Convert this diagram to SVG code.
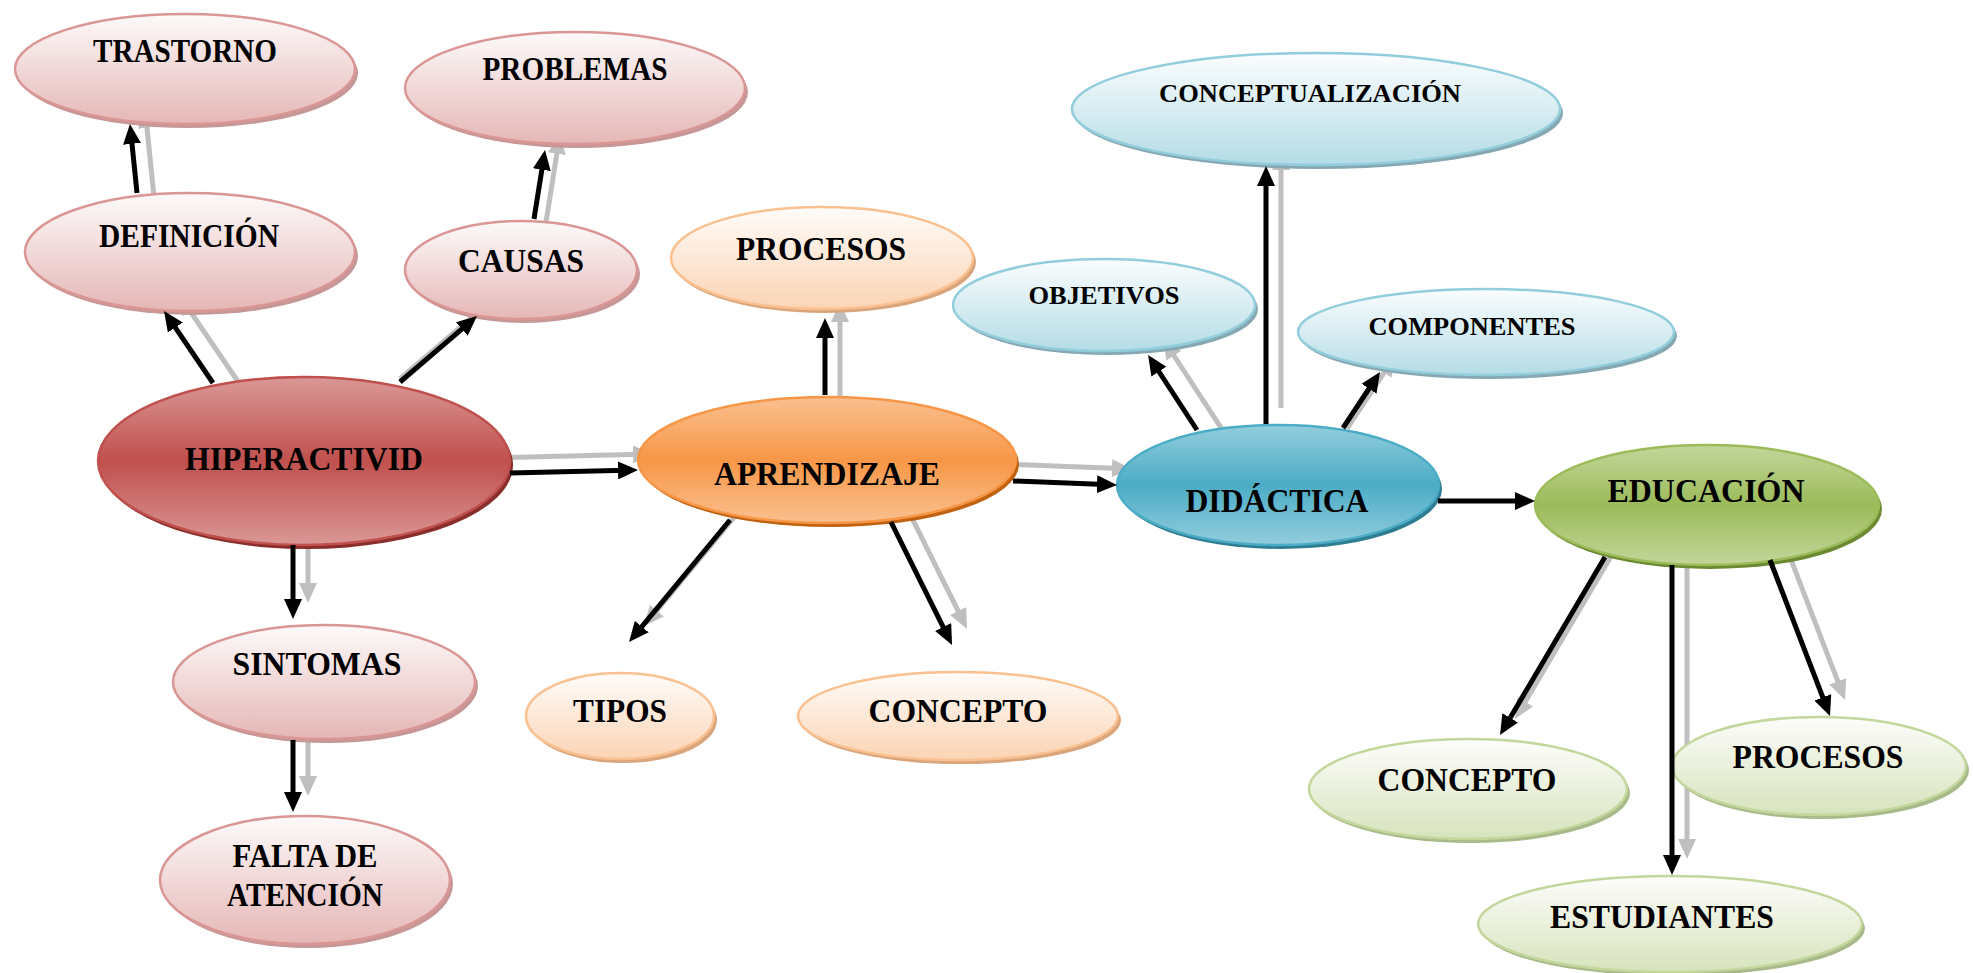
<svg xmlns="http://www.w3.org/2000/svg" width="1973" height="973" viewBox="0 0 1973 973">
<defs>
<linearGradient id="gPink" x1="0" y1="0" x2="0" y2="1"><stop offset="0" stop-color="#fdfafa"/><stop offset="1" stop-color="#e5b7b6"/></linearGradient>
<linearGradient id="gOrL" x1="0" y1="0" x2="0" y2="1"><stop offset="0" stop-color="#fffcfa"/><stop offset="1" stop-color="#fbd4b4"/></linearGradient>
<linearGradient id="gBlL" x1="0" y1="0" x2="0" y2="1"><stop offset="0" stop-color="#fbfdfe"/><stop offset="1" stop-color="#b4dce6"/></linearGradient>
<linearGradient id="gGrL" x1="0" y1="0" x2="0" y2="1"><stop offset="0" stop-color="#fdfdfb"/><stop offset="1" stop-color="#d7e3bc"/></linearGradient>
<linearGradient id="gRed" x1="0" y1="0" x2="0" y2="1"><stop offset="0" stop-color="#da9896"/><stop offset="0.5" stop-color="#c0504d"/><stop offset="1" stop-color="#da9896"/></linearGradient>
<linearGradient id="gOr" x1="0" y1="0" x2="0" y2="1"><stop offset="0" stop-color="#fac090"/><stop offset="0.5" stop-color="#f79646"/><stop offset="1" stop-color="#fac090"/></linearGradient>
<linearGradient id="gBl" x1="0" y1="0" x2="0" y2="1"><stop offset="0" stop-color="#93cddd"/><stop offset="0.5" stop-color="#4bacc6"/><stop offset="1" stop-color="#93cddd"/></linearGradient>
<linearGradient id="gGr" x1="0" y1="0" x2="0" y2="1"><stop offset="0" stop-color="#c3d69b"/><stop offset="0.5" stop-color="#9bbb59"/><stop offset="1" stop-color="#c3d69b"/></linearGradient>
<marker id="ahB" markerUnits="userSpaceOnUse" viewBox="0 0 20 18" markerWidth="20" markerHeight="18" refX="8" refY="9" orient="auto"><path d="M0,0 L20,9 L0,18 Z" fill="#000"/></marker>
<marker id="ahG" markerUnits="userSpaceOnUse" viewBox="0 0 20 18" markerWidth="20" markerHeight="18" refX="8" refY="9" orient="auto"><path d="M0,0 L20,9 L0,18 Z" fill="#bfbfbf"/></marker>
<style>
.t{font-family:"Liberation Serif","Times New Roman",serif;font-weight:bold;font-size:34px;fill:#000;text-anchor:middle}
.s{font-size:26px}
.cb{stroke:#000;stroke-width:5;fill:none;marker-end:url(#ahB)}
.cg{stroke:#bfbfbf;stroke-width:5;fill:none;marker-end:url(#ahG)}
.pink .b{fill:url(#gPink);stroke:#d99694;stroke-width:2.5}
.pink .sh{fill:#c59796}
.orl .b{fill:url(#gOrL);stroke:#fac08f;stroke-width:2.5}
.orl .sh{fill:#d9a57c}
.bll .b{fill:url(#gBlL);stroke:#92cddc;stroke-width:2.5}
.bll .sh{fill:#85a8b2}
.grl .b{fill:url(#gGrL);stroke:#c3d69b;stroke-width:2.5}
.grl .sh{fill:#a9ba8a}
.red .b{fill:url(#gRed);stroke:#c0504d;stroke-width:2.5}
.red .sh{fill:#8a2e2c}
.or .b{fill:url(#gOr);stroke:#f79646;stroke-width:2.5}
.or .sh{fill:#c0620f}
.bl .b{fill:url(#gBl);stroke:#4bacc6;stroke-width:2.5}
.bl .sh{fill:#2f7d92}
.gr .b{fill:url(#gGr);stroke:#9bbb59;stroke-width:2.5}
.gr .sh{fill:#6b8a32}
</style>
</defs>
<rect width="1973" height="973" fill="#fff"/>

<g id="connector-shadows">
<line class="cg" x1="239.3" y1="383.5" x2="185.8" y2="304.9"/>
<line class="cg" x1="154" y1="196.9" x2="146.2" y2="119.9"/>
<line class="cg" x1="399.8" y1="379" x2="482.9" y2="307.8"/>
<line class="cg" x1="545.9" y1="222.7" x2="558.1" y2="145.8"/>
<line class="cg" x1="505" y1="457.5" x2="641" y2="454.3"/>
<line class="cg" x1="308" y1="509" x2="308" y2="591"/>
<line class="cg" x1="308" y1="704" x2="308" y2="784"/>
<line class="cg" x1="840" y1="399" x2="840" y2="314"/>
<line class="cg" x1="757.8" y1="488.6" x2="651.7" y2="616.8"/>
<line class="cg" x1="897.1" y1="488.1" x2="961.7" y2="618.2"/>
<line class="cg" x1="1008" y1="464.2" x2="1120" y2="468.5"/>
<line class="cg" x1="1222.9" y1="430.7" x2="1169.6" y2="349"/>
<line class="cg" x1="1281" y1="408" x2="1281" y2="162"/>
<line class="cg" x1="1347" y1="428.7" x2="1388.4" y2="366"/>
<line class="cg" x1="1630.2" y1="523.8" x2="1521.1" y2="708.7"/>
<line class="cg" x1="1687" y1="529" x2="1687" y2="847"/>
<line class="cg" x1="1777.8" y1="525.3" x2="1840.7" y2="688.8"/>
</g>

<g id="n-trastorno" class="pink"><ellipse class="sh" cx="188" cy="73" rx="170" ry="55"/><ellipse class="b" cx="185" cy="69" rx="170" ry="55"/><text class="t" x="185" y="62" textLength="184" lengthAdjust="spacingAndGlyphs">TRASTORNO</text></g>
<g id="n-problemas" class="pink"><ellipse class="sh" cx="578" cy="92" rx="170" ry="56"/><ellipse class="b" cx="575" cy="88" rx="170" ry="56"/><text class="t" x="575" y="80" textLength="185" lengthAdjust="spacingAndGlyphs">PROBLEMAS</text></g>
<g id="n-definicion" class="pink"><ellipse class="sh" cx="193" cy="256" rx="165" ry="59"/><ellipse class="b" cx="190" cy="252" rx="165" ry="59"/><text class="t" x="189" y="247" textLength="180" lengthAdjust="spacingAndGlyphs">DEFINICIÓN</text></g>
<g id="n-causas" class="pink"><ellipse class="sh" cx="524" cy="274" rx="116" ry="49"/><ellipse class="b" cx="521" cy="270" rx="116" ry="49"/><text class="t" x="521" y="272" textLength="126" lengthAdjust="spacingAndGlyphs">CAUSAS</text></g>
<g id="n-hiperactividad" class="red"><ellipse class="sh" cx="307" cy="465" rx="206" ry="84"/><ellipse class="b" cx="304" cy="461" rx="206" ry="84"/><text class="t" x="304" y="470" textLength="238" lengthAdjust="spacingAndGlyphs">HIPERACTIVID</text></g>
<g id="n-sintomas" class="pink"><ellipse class="sh" cx="327" cy="686" rx="151" ry="57"/><ellipse class="b" cx="324" cy="682" rx="151" ry="57"/><text class="t" x="317" y="675" textLength="169" lengthAdjust="spacingAndGlyphs">SINTOMAS</text></g>
<g id="n-falta" class="pink"><ellipse class="sh" cx="308" cy="884" rx="145" ry="64"/><ellipse class="b" cx="305" cy="880" rx="145" ry="64"/><text class="t" x="305" y="867" textLength="145" lengthAdjust="spacingAndGlyphs">FALTA DE</text><text class="t" x="305" y="906" textLength="156" lengthAdjust="spacingAndGlyphs">ATENCIÓN</text></g>

<g id="n-procesos-a" class="orl"><ellipse class="sh" cx="825" cy="262" rx="151" ry="51"/><ellipse class="b" cx="822" cy="258" rx="151" ry="51"/><text class="t" x="821" y="260" textLength="170" lengthAdjust="spacingAndGlyphs">PROCESOS</text></g>
<g id="n-aprendizaje" class="or"><ellipse class="sh" cx="830" cy="464" rx="189" ry="63"/><ellipse class="b" cx="827" cy="460" rx="189" ry="63"/><text class="t" x="827" y="485" textLength="226" lengthAdjust="spacingAndGlyphs">APRENDIZAJE</text></g>
<g id="n-tipos" class="orl"><ellipse class="sh" cx="623" cy="720" rx="94" ry="43"/><ellipse class="b" cx="620" cy="716" rx="94" ry="43"/><text class="t" x="620" y="722" textLength="94" lengthAdjust="spacingAndGlyphs">TIPOS</text></g>
<g id="n-concepto-a" class="orl"><ellipse class="sh" cx="961" cy="720" rx="160" ry="44"/><ellipse class="b" cx="958" cy="716" rx="160" ry="44"/><text class="t" x="958" y="722" textLength="179" lengthAdjust="spacingAndGlyphs">CONCEPTO</text></g>

<g id="n-conceptualizacion" class="bll"><ellipse class="sh" cx="1319" cy="113" rx="244" ry="56"/><ellipse class="b" cx="1316" cy="109" rx="244" ry="56"/><text class="t s" x="1310" y="102" textLength="302" lengthAdjust="spacingAndGlyphs">CONCEPTUALIZACIÓN</text></g>
<g id="n-objetivos" class="bll"><ellipse class="sh" cx="1107" cy="309" rx="151" ry="46"/><ellipse class="b" cx="1104" cy="305" rx="151" ry="46"/><text class="t s" x="1104" y="304" textLength="151" lengthAdjust="spacingAndGlyphs">OBJETIVOS</text></g>
<g id="n-componentes" class="bll"><ellipse class="sh" cx="1489" cy="336" rx="188" ry="43"/><ellipse class="b" cx="1486" cy="332" rx="188" ry="43"/><text class="t s" x="1472" y="335" textLength="207" lengthAdjust="spacingAndGlyphs">COMPONENTES</text></g>
<g id="n-didactica" class="bl"><ellipse class="sh" cx="1281" cy="489" rx="161" ry="60"/><ellipse class="b" cx="1278" cy="485" rx="161" ry="60"/><text class="t" x="1277" y="512" textLength="183" lengthAdjust="spacingAndGlyphs">DIDÁCTICA</text></g>

<g id="n-educacion" class="gr"><ellipse class="sh" cx="1710" cy="509" rx="172" ry="60"/><ellipse class="b" cx="1707" cy="505" rx="172" ry="60"/><text class="t" x="1706" y="502" textLength="197" lengthAdjust="spacingAndGlyphs">EDUCACIÓN</text></g>
<g id="n-concepto-e" class="grl"><ellipse class="sh" cx="1471" cy="793" rx="159" ry="50"/><ellipse class="b" cx="1468" cy="789" rx="159" ry="50"/><text class="t" x="1467" y="791" textLength="179" lengthAdjust="spacingAndGlyphs">CONCEPTO</text></g>
<g id="n-procesos-e" class="grl"><ellipse class="sh" cx="1822" cy="770" rx="147" ry="49"/><ellipse class="b" cx="1819" cy="766" rx="147" ry="49"/><text class="t" x="1818" y="768" textLength="171" lengthAdjust="spacingAndGlyphs">PROCESOS</text></g>
<g id="n-estudiantes" class="grl"><ellipse class="sh" cx="1673" cy="928" rx="192" ry="48"/><ellipse class="b" cx="1670" cy="924" rx="192" ry="48"/><text class="t" x="1662" y="928" textLength="224" lengthAdjust="spacingAndGlyphs">ESTUDIANTES</text></g>

<g id="connectors">
<line class="cb" x1="213" y1="383" x2="170.8" y2="320.9"/>
<line class="cb" x1="137" y1="193" x2="131.2" y2="135.9"/>
<line class="cb" x1="400" y1="382" x2="467.9" y2="323.8"/>
<line class="cb" x1="534" y1="219" x2="543.1" y2="161.8"/>
<line class="cb" x1="510" y1="473" x2="626" y2="470.3"/>
<line class="cb" x1="293" y1="545" x2="293" y2="607"/>
<line class="cb" x1="293" y1="740" x2="293" y2="800"/>
<line class="cb" x1="825" y1="395" x2="825" y2="330"/>
<line class="cb" x1="730" y1="520" x2="636.7" y2="632.8"/>
<line class="cb" x1="891" y1="522" x2="946.7" y2="634.2"/>
<line class="cb" x1="1013" y1="481" x2="1105" y2="484.5"/>
<line class="cb" x1="1197" y1="430" x2="1154.6" y2="365"/>
<line class="cb" x1="1266" y1="424" x2="1266" y2="178"/>
<line class="cb" x1="1343" y1="428" x2="1373.4" y2="382"/>
<line class="cb" x1="1438" y1="501" x2="1523" y2="501"/>
<line class="cb" x1="1605" y1="557" x2="1506.1" y2="724.7"/>
<line class="cb" x1="1672" y1="565" x2="1672" y2="863"/>
<line class="cb" x1="1770" y1="560" x2="1825.7" y2="704.8"/>
</g>
</svg>
